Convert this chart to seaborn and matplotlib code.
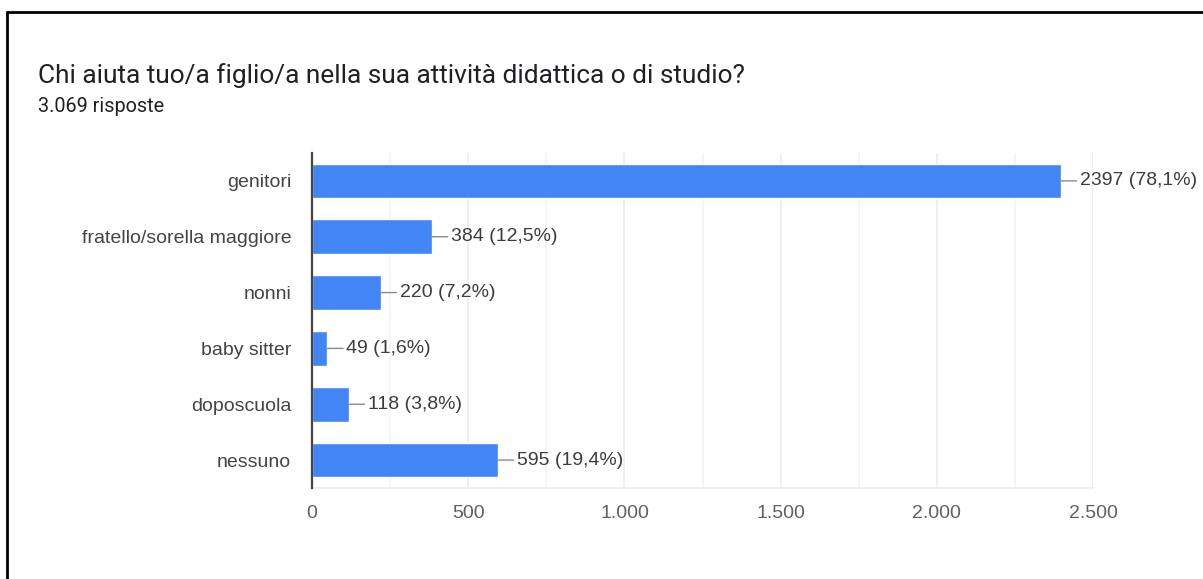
import matplotlib
matplotlib.use("Agg")
import matplotlib.pyplot as plt
from matplotlib.lines import Line2D
from matplotlib.ticker import MultipleLocator, FuncFormatter
import seaborn as sns
import pandas as pd

# Survey answers
categories = ["genitori", "fratello/sorella maggiore", "nonni", "baby sitter", "doposcuola", "nessuno"]
counts = [2397, 384, 220, 49, 118, 595]
percents = ["78,1", "12,5", "7,2", "1,6", "3,8", "19,4"]
total_label = "3.069 risposte"
title = "Chi aiuta tuo/a figlio/a nella sua attività didattica o di studio?"

df = pd.DataFrame({"categoria": categories, "risposte": counts})

sns.set_theme(style="white")
plt.rcParams["font.family"] = ["Liberation Sans", "DejaVu Sans"]

fig = plt.figure(figsize=(12.03, 5.79), dpi=100)
ax = fig.add_axes([0.2594, 0.1572, 0.6492, 0.5786])

bar_color = "#4285F4"
sns.barplot(data=df, x="risposte", y="categoria", orient="h", color=bar_color,
            width=0.62, saturation=1, ax=ax, zorder=3)

ax.set_xlim(0, 2500)
ax.set_ylim(5.5, -0.5)
ax.xaxis.set_major_locator(MultipleLocator(500))
ax.xaxis.set_minor_locator(MultipleLocator(250))
ax.xaxis.set_major_formatter(FuncFormatter(lambda v, p: f"{int(v):,}".replace(",", ".")))
ax.grid(axis="x", which="major", color="#ececec", linewidth=1.2, zorder=0)
ax.grid(axis="x", which="minor", color="#f4f4f4", linewidth=1.2, zorder=0)
ax.set_axisbelow(True)

for side in ["top", "right"]:
    ax.spines[side].set_visible(False)
ax.spines["bottom"].set_color("#ececec")
ax.spines["bottom"].set_linewidth(1.2)
ax.spines["left"].set_color("#444444")
ax.spines["left"].set_linewidth(1.6)
ax.spines["left"].set_zorder(5)

ax.set_xlabel("")
ax.set_ylabel("")
ax.tick_params(axis="x", which="both", length=0, pad=12, labelsize=14, labelcolor="#606060")
ax.tick_params(axis="y", length=0, pad=15, labelsize=14, labelcolor="#444444")

# value labels with short leader lines
for i, (v, p) in enumerate(zip(counts, percents)):
    ax.annotate(f"{v} ({p}%)", xy=(v, i), xytext=(19, 0), textcoords="offset pixels",
                ha="left", va="center", fontsize=14, color="#3c3c3c",
                arrowprops=dict(arrowstyle="-", color="#8a8a8a", lw=1.0,
                                shrinkA=0, shrinkB=0),
                annotation_clip=False)

fig.text(38 / 1203, 1 - 76 / 579, title, fontsize=18.9, color="#202124",
         family=["Roboto", "DejaVu Sans"], ha="left", va="center")
fig.text(38 / 1203, 1 - 106 / 579, total_label, fontsize=14.3, color="#202124",
         family=["Roboto", "DejaVu Sans"], ha="left", va="center")

# outer frame lines (top and left)
fig.add_artist(Line2D([7 / 1203, 1], [1 - 12 / 579, 1 - 12 / 579],
                      transform=fig.transFigure, color="black", lw=2))
fig.add_artist(Line2D([7 / 1203, 7 / 1203], [0, 1 - 12 / 579],
                      transform=fig.transFigure, color="black", lw=2))

fig.savefig("out.png", dpi=100, facecolor="white")
